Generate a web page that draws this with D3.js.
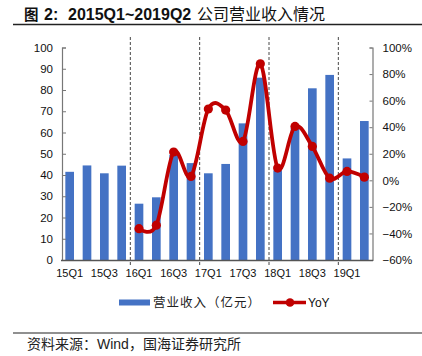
<!DOCTYPE html>
<html><head><meta charset="utf-8">
<script src="https://cdn.jsdelivr.net/npm/d3@7"></script>
<style>body{margin:0;background:#fff;}svg{display:block;font-family:"Liberation Sans",Arial,sans-serif;}</style>
</head><body>
<svg id="c" width="422" height="356"></svg>
<script>
const quarters = ["15Q1","15Q2","15Q3","15Q4","16Q1","16Q2","16Q3","16Q4","17Q1","17Q2","17Q3","17Q4","18Q1","18Q2","18Q3","18Q4","19Q1","19Q2"];
const revenue = [41.5,44.5,40.8,44.4,26.5,29.5,49.5,45.6,40.8,45.2,64.3,85.8,42.2,62.2,80.8,87.1,47.8,65.4];
const yoy = [null,null,null,null,-36.4,-33.8,21.3,2.9,53.7,52.9,29.3,87.7,9.2,40.6,25.5,1.6,6.7,2.4];
const leftTicks = [0,10,20,30,40,50,60,70,80,90,100];
const rightTicks = [-60,-40,-20,0,20,40,60,80,100];
const xLabels = ["15Q1","15Q3","16Q1","16Q3","17Q1","17Q3","18Q1","18Q3","19Q1"];
const yearStarts = ["16Q1","17Q1","18Q1","19Q1"];

const svg = d3.select("#c");
const L = 61, R = 373, T = 47.5, B = 260;
const x = d3.scaleBand().domain(quarters).range([L, R]).paddingInner(0.5).paddingOuter(0.25);
const xb = d3.scaleBand().domain(quarters).range([L, R]);
const yL = d3.scaleLinear().domain([0,100]).range([B,T]);
const yR = d3.scaleLinear().domain([-60,100]).range([B,T]);
const blue = "#4472C4", red = "#C00000";

// title
const title = svg.append("text").attr("y",20).attr("fill","#111")
  .attr("font-family","'Liberation Sans','Noto Sans CJK SC',sans-serif");
title.append("tspan").attr("x",24).attr("font-size",14.5).attr("font-family","'Noto Sans CJK SC',sans-serif").attr("font-weight","bold").text("图");
title.append("tspan").attr("x",44).attr("font-size",16).attr("font-weight","bold").text("2:");
title.append("tspan").attr("x",68).attr("font-size",16).attr("font-weight","bold").text("2015Q1~2019Q2");
title.append("tspan").attr("x",197).attr("font-size",16).attr("font-family","'Noto Sans CJK SC',sans-serif").text("公司营业收入情况");
svg.append("line").attr("x1",13).attr("x2",422).attr("y1",24.5).attr("y2",24.5).attr("stroke","#222").attr("stroke-width",1.3);

// dashed year separators
svg.selectAll(".sep").data(yearStarts).join("line")
  .attr("x1",d=>xb(d)).attr("x2",d=>xb(d)).attr("y1",37).attr("y2",265)
  .attr("stroke","#333").attr("stroke-width",0.9).attr("stroke-dasharray","3,2");

// bars
svg.selectAll(".bar").data(quarters).join("rect")
  .attr("x",d=>x(d)).attr("width",x.bandwidth())
  .attr("y",(d,i)=>yL(revenue[i])).attr("height",(d,i)=>B-yL(revenue[i]))
  .attr("fill",blue);

// axes
const axL = svg.append("g").attr("transform",`translate(${L+1},0)`)
  .call(d3.axisLeft(yL).tickValues(leftTicks).tickSizeInner(-4).tickSizeOuter(-4).tickPadding(9));
const axR = svg.append("g").attr("transform",`translate(${R-0.5},0)`)
  .call(d3.axisRight(yR).tickValues(rightTicks).tickSizeInner(-3).tickSizeOuter(-3).tickPadding(10).tickFormat(d=>(d<0?"\u2212"+(-d):d)+"%"));
[axL,axR].forEach(a=>{
  a.select(".domain").attr("stroke","#777").attr("stroke-width",1.2);
  a.selectAll(".tick line").attr("stroke","#777");
  a.selectAll("text").attr("font-size",11.5).attr("fill","#111").attr("font-family","'Liberation Sans',Arial,sans-serif");
});
svg.append("line").attr("x1",L).attr("x2",R).attr("y1",B+0.5).attr("y2",B+0.5).attr("stroke","#555").attr("stroke-width",1.6);

// x labels
svg.selectAll(".xl").data(xLabels).join("text")
  .attr("x",d=>xb(d)+xb.bandwidth()/2).attr("y",277).attr("text-anchor","middle")
  .attr("font-size",11).attr("fill","#111").text(d=>d);

// YoY line
const pts = quarters.map((q,i)=>({q,v:yoy[i]})).filter(d=>d.v!==null);
const line = d3.line().x(d=>xb(d.q)+xb.bandwidth()/2).y(d=>yR(d.v)).curve(d3.curveCatmullRom.alpha(0));
svg.append("path").datum(pts).attr("d",line).attr("fill","none").attr("stroke",red).attr("stroke-width",3.8);
svg.selectAll(".dot").data(pts).join("circle")
  .attr("cx",d=>xb(d.q)+xb.bandwidth()/2).attr("cy",d=>yR(d.v)).attr("r",4.6).attr("fill",red);

// legend
svg.append("rect").attr("x",119).attr("y",299.5).attr("width",31).attr("height",6).attr("fill",blue);
svg.append("text").attr("x",153).attr("y",307).attr("font-size",12.5).attr("letter-spacing",1).attr("fill","#222")
  .attr("font-family","'Noto Sans CJK SC',sans-serif").text("营业收入（亿元）");
svg.append("line").attr("x1",273).attr("x2",306).attr("y1",302.5).attr("y2",302.5).attr("stroke",red).attr("stroke-width",3.5);
svg.append("circle").attr("cx",290).attr("cy",302.5).attr("r",4.3).attr("fill",red);
svg.append("text").attr("x",308).attr("y",307).attr("font-size",12).attr("fill","#111").text("YoY");

// footer
svg.append("line").attr("x1",13).attr("x2",422).attr("y1",333).attr("y2",333).attr("stroke","#222").attr("stroke-width",1.2);
svg.append("text").attr("x",27).attr("y",348.5).attr("font-size",14).attr("fill","#222")
  .attr("font-family","'Liberation Sans','Noto Sans CJK SC',sans-serif").text("资料来源：Wind，国海证券研究所");
</script>
</body></html>
